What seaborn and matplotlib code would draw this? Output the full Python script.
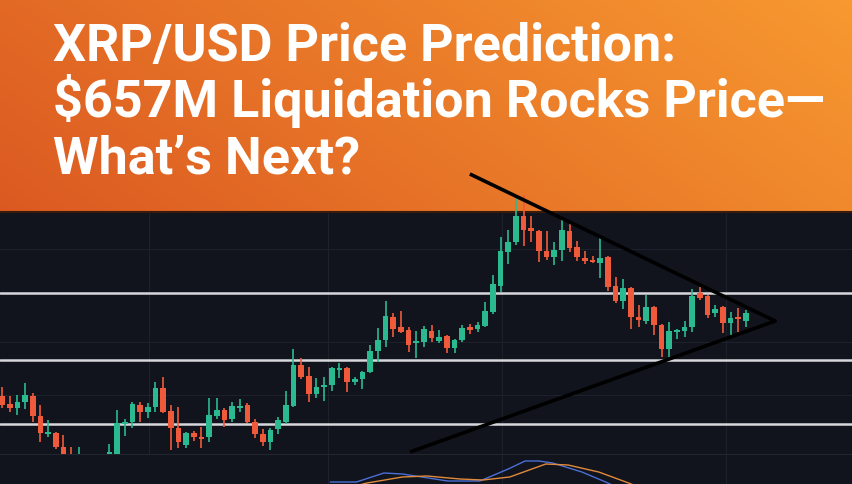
import numpy as np
import pandas as pd
import matplotlib
matplotlib.use("Agg")
import matplotlib.pyplot as plt
import seaborn as sns

# candle data (price)
open_p = [1.08, 1.00, 0.96, 1.02, 1.08, 0.88, 0.70, 0.71, 0.57, 0.45,
          0.35, 0.41, 0.33, 0.39, 0.50, 0.50, 0.80, 0.82, 0.99, 0.92,
          0.97, 1.16, 0.93, 0.76, 0.59, 0.71, 0.67, 0.67, 0.88, 0.94,
          0.85, 0.96, 0.99, 0.82, 0.70, 0.62, 0.75, 0.82, 0.98, 1.39,
          1.28, 1.10, 1.17, 1.19, 1.34, 1.36, 1.22, 1.25, 1.32, 1.53,
          1.64, 1.87, 1.77, 1.74, 1.61, 1.62, 1.73, 1.63, 1.68, 1.56,
          1.64, 1.77, 1.75, 1.78, 1.92, 2.18, 2.52, 2.62, 2.88, 2.76,
          2.73, 2.53, 2.47, 2.54, 2.73, 2.57, 2.46, 2.44, 2.41, 2.47,
          2.18, 2.03, 2.16, 1.87, 1.83, 1.97, 1.79, 1.55, 1.72, 1.73,
          1.77, 2.11, 2.08, 1.91, 1.97, 1.81, 1.87, 1.83]
high_p = [1.17, 1.08, 1.09, 1.21, 1.11, 0.99, 0.84, 0.72, 0.69, 0.57,
          0.57, 0.47, 0.45, 0.44, 0.60, 0.94, 0.85, 1.02, 1.02, 1.01,
          1.22, 1.27, 0.99, 0.97, 0.72, 0.73, 0.77, 1.06, 1.06, 0.96,
          1.02, 1.05, 1.01, 0.85, 0.75, 0.76, 0.87, 1.13, 1.55, 1.46,
          1.37, 1.26, 1.27, 1.37, 1.41, 1.37, 1.27, 1.33, 1.59, 1.76,
          2.03, 1.91, 1.93, 1.77, 1.73, 1.78, 1.79, 1.74, 1.69, 1.65,
          1.79, 1.80, 1.82, 2.02, 2.29, 2.67, 2.74, 3.09, 3.09, 2.88,
          2.74, 2.73, 2.62, 2.85, 2.82, 2.63, 2.53, 2.48, 2.66, 2.48,
          2.27, 2.25, 2.17, 1.99, 2.09, 1.98, 1.80, 1.82, 1.75, 1.83,
          2.15, 2.17, 2.09, 1.99, 1.98, 1.92, 1.96, 1.94]
low_p = [0.96, 0.92, 0.89, 0.95, 0.82, 0.62, 0.67, 0.55, 0.43, 0.35,
         0.31, 0.29, 0.27, 0.31, 0.47, 0.48, 0.68, 0.76, 0.82, 0.86,
         0.92, 0.91, 0.54, 0.56, 0.56, 0.63, 0.56, 0.62, 0.85, 0.77,
         0.82, 0.92, 0.81, 0.66, 0.58, 0.54, 0.70, 0.80, 0.97, 1.25,
         1.02, 1.06, 1.03, 1.13, 1.26, 1.12, 1.19, 1.15, 1.31, 1.42,
         1.57, 1.67, 1.71, 1.52, 1.46, 1.57, 1.62, 1.61, 1.51, 1.51,
         1.62, 1.70, 1.72, 1.77, 1.90, 2.12, 2.40, 2.59, 2.58, 2.62,
         2.42, 2.44, 2.39, 2.43, 2.52, 2.43, 2.40, 2.41, 2.26, 2.13,
         2.01, 1.95, 1.75, 1.77, 1.80, 1.69, 1.47, 1.47, 1.65, 1.67,
         1.72, 2.04, 1.86, 1.87, 1.71, 1.69, 1.72, 1.77]
close_p = [0.99, 0.96, 1.02, 1.09, 0.88, 0.71, 0.72, 0.57, 0.47, 0.39,
           0.43, 0.35, 0.39, 0.35, 0.52, 0.81, 0.82, 1.00, 0.92, 0.97,
           1.16, 0.92, 0.76, 0.62, 0.71, 0.67, 0.65, 0.89, 0.94, 0.84,
           0.98, 0.98, 0.82, 0.70, 0.62, 0.74, 0.84, 0.99, 1.39, 1.27,
           1.10, 1.17, 1.19, 1.36, 1.36, 1.22, 1.25, 1.32, 1.53, 1.64,
           1.88, 1.75, 1.72, 1.59, 1.63, 1.75, 1.66, 1.67, 1.56, 1.64,
           1.76, 1.74, 1.79, 1.93, 2.20, 2.53, 2.62, 2.88, 2.74, 2.73,
           2.53, 2.47, 2.54, 2.74, 2.56, 2.47, 2.43, 2.42, 2.46, 2.17,
           2.03, 2.16, 1.87, 1.84, 1.97, 1.79, 1.55, 1.73, 1.74, 1.77,
           2.08, 2.06, 1.89, 1.95, 1.81, 1.86, 1.85, 1.91]

levels = [2.11, 1.44, 0.80]

# triangle drawn on the chart (candle index, price)
tri_x = [61.0, 100.8, 53.2]
tri_y = [3.30, 1.83, 0.52]

# indicator pane lines
fast_x = [42.8, 46.2, 49.8, 52.2, 58.1, 62.3, 66.0, 68.2, 70.0, 71.8, 75.6, 78.7, 81.0]
fast_y = [0.2, 0.2, 1.1, 1.0, 0.3, 0.3, 1.5, 2.3, 2.3, 2.1, 1.2, 0.2, -0.6]
slow_x = [44.0, 47.6, 52.2, 55.4, 59.7, 62.7, 66.2, 70.9, 73.8, 77.8, 81.7, 84.0]
slow_y = [-0.6, 0.1, 0.7, 0.8, 0.5, 0.4, 0.7, 2.0, 1.9, 1.2, 0.1, -0.6]

title_lines = ["XRP/USD Price Prediction:",
               "$657M Liquidation Rocks Price\u2014",
               "What\u2019s Next?"]

bg = "#11141c"
up_col = "#2bb98f"
down_col = "#ef5a3a"

sns.set_theme(style="dark")
plt.rcParams["font.family"] = ["Roboto", "DejaVu Sans"]

df = pd.DataFrame({"open": open_p, "high": high_p, "low": low_p, "close": close_p})
df["idx"] = np.arange(len(df))
df["up"] = df["close"] >= df["open"]

W, H = 852, 485
fig = plt.figure(figsize=(W / 100, H / 100), dpi=100, facecolor=bg)

# orange header
ax_head = fig.add_axes([0, 1 - 214 / H, 1, 214 / H])
gx = np.linspace(0, 1, 300)
gy = np.linspace(0, 1, 100)
t = np.clip(0.75 * gx[None, :] + 0.25 * (1 - gy[:, None]), 0, 1)
c0 = np.array([0.86, 0.35, 0.13])
c1 = np.array([0.97, 0.60, 0.19])
img = c0[None, None, :] * (1 - t[..., None]) + c1[None, None, :] * t[..., None]
ax_head.imshow(img, extent=[0, 1, 0, 1], aspect="auto")
ax_head.axhline(0.004, color="#3a1a0a", lw=1.5)
ax_head.set_axis_off()
ax_head.set_zorder(0)

# price pane (extends above header so wicks and trend line show on it)
top_px = 160
ax = fig.add_axes([0, 30 / H, 1, (455 - top_px) / H])
ax.patch.set_visible(False)
ax.set_zorder(2)
x_lo = -2 / 7.67
x_hi = (W - 2) / 7.67
ax.set_xlim(x_lo, x_hi)
ax.set_ylim(0.50, 0.50 + (455 - top_px) / 100)

for gl in [2.55, 1.62, 1.09]:
    ax.axhline(gl, color="#1d212b", lw=0.8, zorder=0)
ax.vlines([19.2, 42.5, 65.2, 94.4], 0.5, 2.91, color="#1d212b", lw=0.8, zorder=0)
for lv in levels:
    ax.axhline(lv, color="#d8d8dc", lw=1.8, zorder=1)

cols = np.where(df["up"], up_col, down_col)
ax.vlines(df["idx"], df["low"], df["high"], colors=cols, lw=1.2, zorder=3)
body_lo = np.minimum(df["open"], df["close"])
body_h = np.maximum(np.abs(df["close"] - df["open"]), 0.02)
ax.bar(df["idx"], body_h, bottom=body_lo, width=0.74, color=cols, zorder=4, linewidth=0)

ax.plot([tri_x[0], tri_x[1], tri_x[2]], [tri_y[0], tri_y[1], tri_y[2]],
        color="black", lw=2.6, solid_capstyle="butt", zorder=5)
ax.set_axis_off()

# indicator pane
ax_ind = fig.add_axes([0, 0, 1, 30 / H], facecolor=bg)
ax_ind.set_zorder(1)
ax_ind.set_xlim(x_lo, x_hi)
ax_ind.set_ylim(0, 3)
ax_ind.axhline(3, color="#262a34", lw=1.2)
ax_ind.vlines([42.5, 65.2, 94.4], 0, 3, color="#1d212b", lw=0.8)
sns.lineplot(x=fast_x, y=fast_y, ax=ax_ind, color="#4a6fd6", lw=1.0, sort=False)
sns.lineplot(x=slow_x, y=slow_y, ax=ax_ind, color="#e08a3c", lw=1.0, sort=False)
ax_ind.set_axis_off()

# title text
for i, line in enumerate(title_lines):
    fig.text(0.062, 1 - (61 + 56.5 * i) / H, line, color="white", fontsize=37.5,
             fontweight="bold", ha="left", va="baseline", zorder=10)

fig.savefig("out.png", dpi=100, facecolor=bg)
